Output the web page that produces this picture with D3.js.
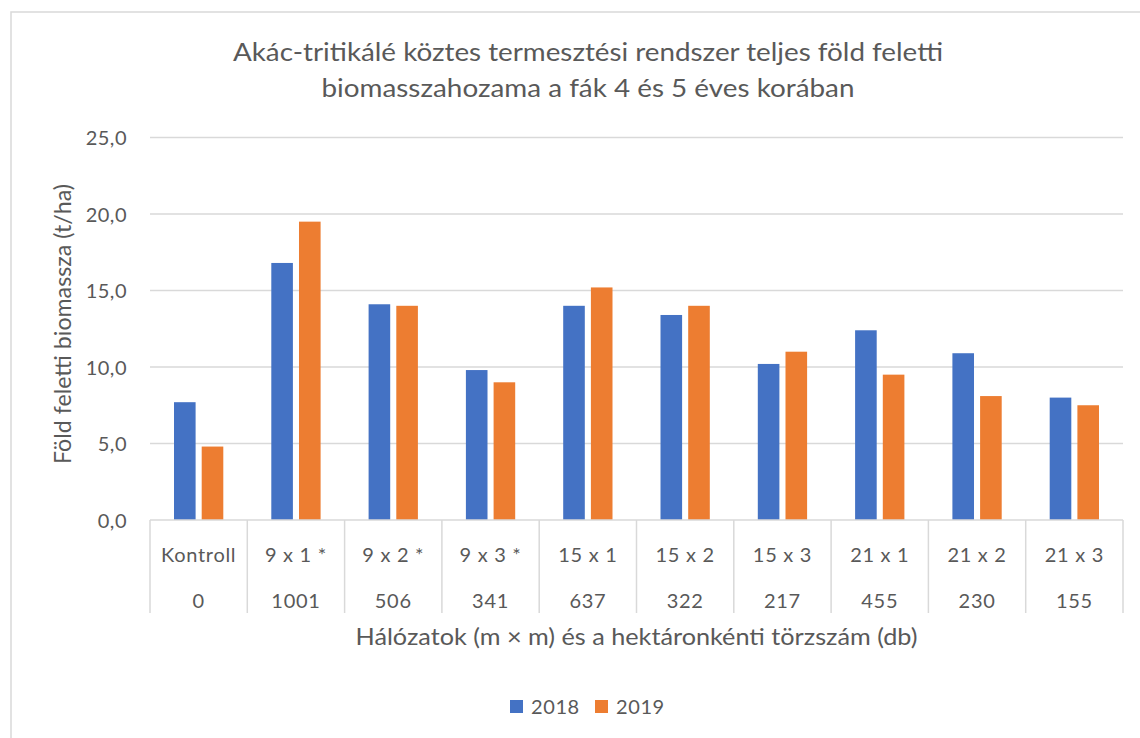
<!DOCTYPE html>
<html><head><meta charset="utf-8">
<script src="https://cdn.jsdelivr.net/npm/d3@7"></script>
<style>html,body{margin:0;padding:0;background:#fff;} svg{display:block;}</style>
</head><body>
<script>
const categories = ["Kontroll","9 x 1 *","9 x 2 *","9 x 3 *","15 x 1","15 x 2","15 x 3","21 x 1","21 x 2","21 x 3"];
const treeCounts = ["0","1001","506","341","637","322","217","455","230","155"];
const seriesNames = ["2018","2019"];
const values2018 = [7.7,16.8,14.1,9.8,14.0,13.4,10.2,12.4,10.9,8.0];
const values2019 = [4.8,19.5,14.0,9.0,15.2,14.0,11.0,9.5,8.1,7.5];
const yTicks = [0,5,10,15,20,25];
const colors = ["#4472C4","#ED7D31"];
const titleLines = ["Akác-tritikálé köztes termesztési rendszer teljes föld feletti","biomasszahozama a fák 4 és 5 éves korában"];
const yTitle = "Föld feletti biomassza (t/ha)";
const xTitle = "Hálózatok (m × m) és a hektáronkénti törzszám (db)";

const W=1140,H=738;
const font="Lato, 'Open Sans', sans-serif";
const txt="#595959";
const svg=d3.select("body").append("svg").attr("width",W).attr("height",H);
svg.append("rect").attr("x",11).attr("y",12).attr("width",1200).attr("height",800)
  .attr("fill","#fff").attr("stroke","#D9D9D9").attr("stroke-width",1.5);

const L=150,R=1123,T=137.5,B=520;
const y=d3.scaleLinear().domain([0,25]).range([B,T]);
const x0=d3.scaleBand().domain(categories).range([L,R]).padding(0);
const groupPad=24;
const x1=d3.scaleBand().domain(seriesNames).range([groupPad,x0.bandwidth()-groupPad]).paddingInner(0.22);

// gridlines
svg.append("g").selectAll("line").data(yTicks.filter(d=>d>0)).join("line")
  .attr("x1",L).attr("x2",R).attr("y1",d=>y(d)).attr("y2",d=>y(d))
  .attr("stroke","#D9D9D9").attr("stroke-width",1.5);

// y axis labels
const yAxis=d3.axisLeft(y).tickValues(yTicks).tickSize(0).tickPadding(0)
  .tickFormat(d=>d3.format(".1f")(d).replace(".",","));
const ya=svg.append("g").attr("transform",`translate(127,0)`).call(yAxis);
ya.select(".domain").remove();
ya.selectAll("text").attr("fill",txt).style("font-family",font).style("font-size","20px")
  .style("letter-spacing","0.5px").attr("dy","0.35em");

// bars
const data=categories.map((c,i)=>({c,vals:[values2018[i],values2019[i]]}));
const g=svg.append("g");
g.selectAll("g").data(data).join("g").attr("transform",d=>`translate(${x0(d.c)},0)`)
  .selectAll("rect").data(d=>d.vals.map((v,j)=>({s:seriesNames[j],v,j}))).join("rect")
  .attr("x",d=>x1(d.s)).attr("width",x1.bandwidth())
  .attr("y",d=>y(d.v)).attr("height",d=>y(0)-y(d.v)).attr("fill",d=>colors[d.j]);

// category axis line
svg.append("line").attr("x1",L).attr("x2",R).attr("y1",B).attr("y2",B).attr("stroke","#D9D9D9").attr("stroke-width",1.5);
// separators
const seps=categories.map(c=>x0(c)).concat([R]);
svg.append("g").selectAll("line").data(seps).join("line")
  .attr("x1",d=>d).attr("x2",d=>d).attr("y1",B).attr("y2",613)
  .attr("stroke","#D9D9D9").attr("stroke-width",1.5);
// labels
svg.append("g").selectAll("text").data(categories).join("text")
  .attr("x",d=>x0(d)+x0.bandwidth()/2).attr("y",555).attr("dy","0.35em")
  .attr("text-anchor","middle").attr("fill",txt).style("font-family",font).style("font-size","20px")
  .style("letter-spacing","0.7px").text(d=>d);
svg.append("g").selectAll("text").data(categories).join("text")
  .attr("x",d=>x0(d)+x0.bandwidth()/2).attr("y",601).attr("dy","0.35em")
  .attr("text-anchor","middle").attr("fill",txt).style("font-family",font).style("font-size","20px")
  .style("letter-spacing","0.7px").text((d,i)=>treeCounts[i]);

// axis titles
svg.append("text").attr("x",(L+R)/2).attr("y",637).attr("dy","0.35em").attr("text-anchor","middle")
  .attr("fill",txt).style("font-family",font).style("font-size","23px")
  .attr("textLength",562).attr("lengthAdjust","spacingAndGlyphs").text(xTitle);
svg.append("text").attr("transform",`translate(63,324) rotate(-90)`).attr("dy","0.35em").attr("text-anchor","middle")
  .attr("fill",txt).style("font-family",font).style("font-size","23px")
  .attr("textLength",280).attr("lengthAdjust","spacingAndGlyphs").text(yTitle);

// title
const titleLens=[710,533];
svg.append("g").selectAll("text").data(titleLines).join("text")
  .attr("x",588).attr("y",(d,i)=>52+i*36).attr("dy","0.35em").attr("text-anchor","middle")
  .attr("fill",txt).style("font-family",font).style("font-size","25px")
  .attr("textLength",(d,i)=>titleLens[i]).attr("lengthAdjust","spacingAndGlyphs").text(d=>d);

// legend
const leg=svg.append("g");
const legX=[510,595];
seriesNames.forEach((s,i)=>{
  leg.append("rect").attr("x",legX[i]).attr("y",700).attr("width",13).attr("height",13).attr("fill",colors[i]);
  leg.append("text").attr("x",legX[i]+21).attr("y",707).attr("dy","0.35em").attr("fill",txt)
    .style("font-family",font).style("font-size","20px").style("letter-spacing","0.6px").text(s);
});
</script>
</body></html>
